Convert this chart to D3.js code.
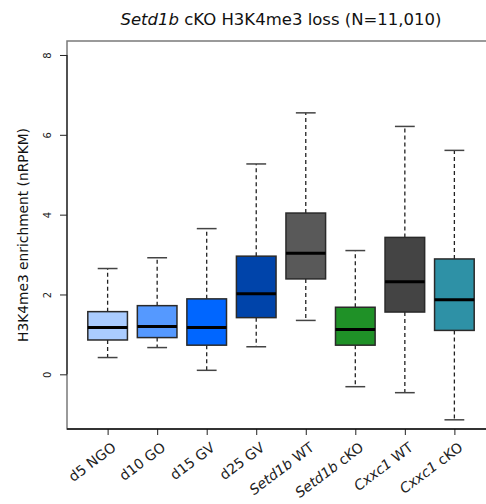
<!DOCTYPE html>
<html>
<head>
<meta charset="utf-8">
<script src="https://cdn.jsdelivr.net/npm/d3@7"></script>
<style>
  body { margin: 0; background: #fff; }
  svg { display: block; font-family: "DejaVu Sans", Verdana, sans-serif; }
</style>
</head>
<body>
<div id="chart"></div>
<script>
// sample labels: italic gene part + plain rest
const labelItalic = ["", "", "", "", "Setd1b", "Setd1b", "Cxxc1", "Cxxc1"];
const labelPlain = ["d5 NGO", "d10 GO", "d15 GV", "d25 GV", " WT", " cKO", " WT", " cKO"];

// box statistics (nRPKM)
const whiskerLow = [0.42, 0.67, 0.10, 0.69, 1.35, -0.31, -0.46, -1.14];
const q1 = [0.86, 0.92, 0.73, 1.42, 2.39, 0.73, 1.56, 1.10];
const median = [1.17, 1.20, 1.17, 2.02, 3.03, 1.12, 2.32, 1.87];
const q3 = [1.57, 1.72, 1.89, 2.96, 4.04, 1.68, 3.43, 2.89];
const whiskerHigh = [2.65, 2.92, 3.65, 5.27, 6.55, 3.10, 6.21, 5.61];

const boxColors = ["#aaccff", "#5599ff", "#0066ff", "#0044aa", "#595959", "#1f9127", "#444444", "#2e91a6"];
const yTicks = [0, 2, 4, 6, 8];

const width = 486, height = 504;
const plotLeft = 67, plotTop = 41, plotBottom = 429, plotRight = 495;

const svg = d3.select("#chart").append("svg")
    .attr("width", width)
    .attr("height", height);

const x = d3.scaleLinear()
    .domain([0.18, 8.82])
    .range([plotLeft, plotRight]);

const y = d3.scaleLinear()
    .domain([-1.37, 8.35])
    .range([plotBottom, plotTop]);

const step = x(2) - x(1);
const boxW = step * 0.8;

// frame
svg.append("rect")
    .attr("x", plotLeft)
    .attr("y", plotTop)
    .attr("width", plotRight - plotLeft)
    .attr("height", plotBottom - plotTop)
    .attr("fill", "none")
    .attr("stroke", "#7a7a7a")
    .attr("stroke-width", 1.5);

// y axis
const yAxis = svg.append("g")
    .attr("transform", `translate(${plotLeft},0)`)
    .call(d3.axisLeft(y).tickValues(yTicks).tickSize(7).tickFormat(d3.format("d")));
yAxis.select(".domain").remove();
yAxis.append("line")
    .attr("y1", y(0)).attr("y2", y(8))
    .attr("stroke", "#222").attr("stroke-width", 1.2);
yAxis.selectAll(".tick line").attr("stroke", "#222");
yAxis.selectAll(".tick text")
    .attr("font-family", "DejaVu Sans")
    .attr("font-size", 10)
    .attr("fill", "#222")
    .attr("text-anchor", "middle")
    .attr("x", 0)
    .attr("dy", "0.35em")
    .attr("transform", "translate(-20,0) rotate(-90)");

// x axis
const xAxis = svg.append("g")
    .attr("transform", `translate(0,${plotBottom})`)
    .call(d3.axisBottom(x).tickValues(d3.range(1, 9)).tickSize(6).tickFormat(""));
xAxis.select(".domain").remove();
xAxis.append("line")
    .attr("x1", plotLeft).attr("x2", plotRight)
    .attr("stroke", "#111").attr("stroke-width", 1.5);
xAxis.selectAll(".tick line").attr("stroke", "#222");

const xLab = svg.append("g");
labelPlain.forEach((lab, i) => {
    const t = xLab.append("text")
        .attr("transform", `translate(${x(i + 1) + 3},${plotBottom + 12}) rotate(-37)`)
        .attr("text-anchor", "end")
        .attr("dy", "0.75em")
        .attr("font-size", 14)
        .attr("fill", "#222");
    if (labelItalic[i]) {
        t.append("tspan").attr("font-style", "italic").text(labelItalic[i]);
    }
    t.append("tspan").text(lab);
});

// boxes
const boxes = svg.append("g").selectAll("g")
    .data(d3.range(labelPlain.length))
    .join("g");

boxes.append("line")
    .attr("x1", i => x(i + 1)).attr("x2", i => x(i + 1))
    .attr("y1", i => y(q3[i])).attr("y2", i => y(whiskerHigh[i]))
    .attr("stroke", "#222").attr("stroke-width", 1.3)
    .attr("stroke-dasharray", "4,3");
boxes.append("line")
    .attr("x1", i => x(i + 1)).attr("x2", i => x(i + 1))
    .attr("y1", i => y(q1[i])).attr("y2", i => y(whiskerLow[i]))
    .attr("stroke", "#222").attr("stroke-width", 1.3)
    .attr("stroke-dasharray", "4,3");

[whiskerHigh, whiskerLow].forEach(arr => {
    boxes.append("line")
        .attr("x1", i => x(i + 1) - boxW / 4).attr("x2", i => x(i + 1) + boxW / 4)
        .attr("y1", i => y(arr[i])).attr("y2", i => y(arr[i]))
        .attr("stroke", "#444").attr("stroke-width", 1.5);
});

boxes.append("rect")
    .attr("x", i => x(i + 1) - boxW / 2)
    .attr("y", i => y(q3[i]))
    .attr("width", boxW)
    .attr("height", i => y(q1[i]) - y(q3[i]))
    .attr("fill", i => boxColors[i])
    .attr("stroke", "#2a2a2a")
    .attr("stroke-width", 1.5);

boxes.append("line")
    .attr("x1", i => x(i + 1) - boxW / 2).attr("x2", i => x(i + 1) + boxW / 2)
    .attr("y1", i => y(median[i])).attr("y2", i => y(median[i]))
    .attr("stroke", "#000").attr("stroke-width", 3);

// title
const title = svg.append("text")
    .attr("x", (plotLeft + plotRight) / 2)
    .attr("y", 25)
    .attr("text-anchor", "middle")
    .attr("font-size", 16.5)
    .attr("fill", "#111");
title.append("tspan").attr("font-style", "italic").text("Setd1b");
title.append("tspan").text(" cKO H3K4me3 loss (N=11,010)");

// y label
svg.append("text")
    .attr("transform", `translate(23,${(plotTop + plotBottom) / 2}) rotate(-90)`)
    .attr("text-anchor", "middle")
    .attr("dy", "0.35em")
    .attr("font-size", 13.8)
    .attr("fill", "#111")
    .text("H3K4me3 enrichment (nRPKM)");
</script>
</body>
</html>
